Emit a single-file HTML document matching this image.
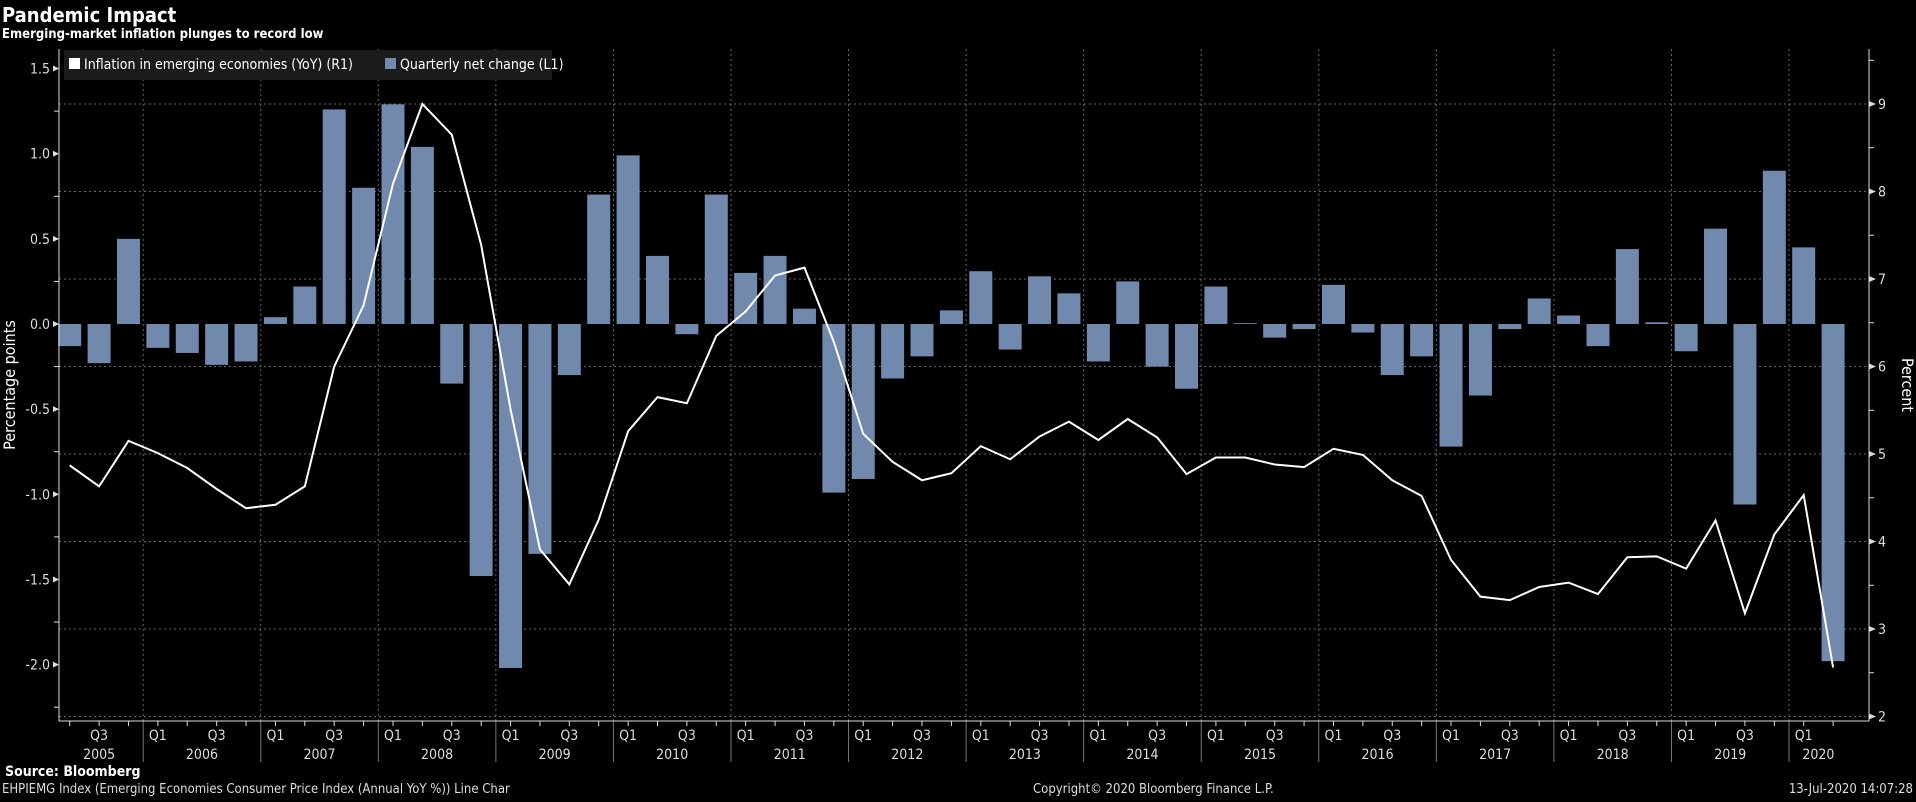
<!DOCTYPE html>
<html><head><meta charset="utf-8"><style>
body{margin:0;background:#000;width:1916px;height:797px;overflow:hidden;font-family:"Liberation Sans","DejaVu Sans",sans-serif;color:#fff}
svg text{font-family:"DejaVu Sans Condensed","Liberation Sans",sans-serif}
</style></head><body>
<svg id="c" width="1916" height="797"></svg>
<script>
const quarters = 61; // 2005Q2 .. 2020Q2
const barValues = [-0.13,-0.23,0.50,-0.14,-0.17,-0.24,-0.22,0.04,0.22,1.26,0.80,1.29,1.04,-0.35,-1.48,-2.02,-1.35,-0.30,0.76,0.99,0.40,-0.06,0.76,0.30,0.40,0.09,-0.99,-0.91,-0.32,-0.19,0.08,0.31,-0.15,0.28,0.18,-0.22,0.25,-0.25,-0.38,0.22,0.005,-0.08,-0.03,0.23,-0.05,-0.30,-0.19,-0.72,-0.42,-0.03,0.15,0.05,-0.13,0.44,0.01,-0.16,0.56,-1.06,0.90,0.45,-1.98];
const lineValues = [4.87,4.63,5.15,5.01,4.84,4.60,4.38,4.42,4.63,6.00,6.70,8.09,9.00,8.65,7.39,5.51,3.91,3.51,4.25,5.26,5.65,5.58,6.35,6.63,7.04,7.13,6.28,5.23,4.91,4.70,4.78,5.09,4.94,5.20,5.37,5.16,5.40,5.19,4.77,4.96,4.96,4.88,4.85,5.06,4.99,4.70,4.52,3.79,3.37,3.33,3.48,3.53,3.40,3.82,3.83,3.69,4.24,3.18,4.08,4.53,2.56];
const leftTicks = [1.5,1.0,0.5,0.0,-0.5,-1.0,-1.5,-2.0];
const leftTickLabels = ["1.5","1.0","0.5","0.0","-0.5","-1.0","-1.5","-2.0"];
const rightTicks = [2,3,4,5,6,7,8,9];
const years = ["2005","2006","2007","2008","2009","2010","2011","2012","2013","2014","2015","2016","2017","2018","2019","2020"];

const NS="http://www.w3.org/2000/svg", svg=document.getElementById('c');
const X0=59,X1=1869,Y0=49,Y1=721;
const xq=i=>69.7+i*29.39;
const yL=v=>324-v*170.3;
const yR=v=>104+(9-v)*87.5;
function el(t,a,p){const e=document.createElementNS(NS,t);for(const k in a)e.setAttribute(k,a[k]);(p||svg).appendChild(e);return e;}

let t=el('text',{x:2,y:22,'font-size':20,'font-weight':'bold',fill:'#fff'});t.textContent='Pandemic Impact';

t=el('text',{x:2,y:38,'font-size':13,'font-weight':'bold',fill:'#fff'});t.textContent='Emerging-market inflation plunges to record low';


rightTicks.forEach(v=>{const g=el('line',{x1:X0,x2:X1,y1:yR(v),y2:yR(v),stroke:'#666','stroke-dasharray':'2,3','stroke-width':1});
});
for(let y=1;y<years.length;y++){const xi=xq(3+4*(y-1)-0.5);
 const g=el('line',{x1:xi,x2:xi,y1:Y0,y2:Y1,stroke:'#666','stroke-dasharray':'2,3'});
 
 const d=el('line',{x1:xi,x2:xi,y1:Y1,y2:762,stroke:'#777'});
 }

const lg=el('g',{});
el('rect',{x:64,y:50,width:488,height:30,fill:'#1b1b1b'},lg);
el('rect',{x:69,y:58,width:11,height:11,fill:'#fff'},lg);
t=el('text',{x:84,y:69,'font-size':14,fill:'#fff'},lg);t.textContent='Inflation in emerging economies (YoY) (R1)';
el('rect',{x:385,y:58,width:11,height:11,fill:'#7189ad'},lg);
t=el('text',{x:400,y:69,'font-size':14,fill:'#fff'},lg);t.textContent='Quarterly net change (L1)';

barValues.forEach((v,i)=>{const y=Math.min(yL(v),yL(0)),h=Math.max(Math.abs(yL(v)-yL(0)),0.5);
 const r=el('rect',{x:xq(i)-11.5,y:y,width:23,height:h,fill:'#7189ad'});
 });
const pl=el('polyline',{points:lineValues.map((v,i)=>xq(i)+','+yR(v)).join(' '),fill:'none',stroke:'#fff','stroke-width':2});


let a=el('line',{x1:X0,x2:X0,y1:Y0,y2:Y1,stroke:'#ddd'});
a=el('line',{x1:X1,x2:X1,y1:Y0,y2:Y1,stroke:'#ddd'});
a=el('line',{x1:X0,x2:X1,y1:Y1,y2:Y1,stroke:'#ddd'});

leftTicks.forEach((v,i)=>{const y=yL(v);el('path',{d:`M${X0-6} ${y-3}L${X0} ${y}L${X0-6} ${y+3}Z`,fill:'#ddd'});
 const m=yL(v-0.25); el('line',{x1:X0-5,x2:X0,y1:m,y2:m,stroke:'#ddd'});
 const l=el('text',{x:X0-9,y:y+5,'font-size':14,fill:'#ddd','text-anchor':'end'});l.textContent=leftTickLabels[i];
 });
rightTicks.forEach(v=>{const y=yR(v);el('path',{d:`M${X1} ${y-3}L${X1+7} ${y}L${X1} ${y+3}Z`,fill:'#ddd'});
 el('line',{x1:X1,x2:X1+5,y1:yR(v+0.5),y2:yR(v+0.5),stroke:'#ddd'});
 const l=el('text',{x:X1+9,y:y+5,'font-size':14,fill:'#ddd'});l.textContent=String(v);
 });

for(let i=0;i<quarters;i++){el('line',{x1:xq(i),x2:xq(i),y1:Y1,y2:Y1+5,stroke:'#ddd'});
 const q=(i+1)%4; if(q===0||q===2){const l=el('text',{x:xq(i),y:740,'font-size':14,fill:'#ddd','text-anchor':'middle'});
 l.textContent=q===0?'Q1':'Q3';}}
years.forEach((yr,k)=>{const s=k===0?-0.5:3+4*(k-1)-0.5, e=Math.min(3+4*k-0.5, quarters-0.5);
 const l=el('text',{x:(xq(s)+xq(e))/2,y:759,'font-size':14,fill:'#ddd','text-anchor':'middle'});l.textContent=yr;
 });

t=el('text',{x:15,y:385,'font-size':16,fill:'#fff','text-anchor':'middle',transform:'rotate(-90 15 385)'});t.textContent='Percentage points';

t=el('text',{x:1902,y:385,'font-size':16,fill:'#fff','text-anchor':'middle',transform:'rotate(90 1902 385)'});t.textContent='Percent';


t=el('text',{x:5,y:776,'font-size':14,'font-weight':'bold',fill:'#fff'});t.textContent='Source: Bloomberg';

t=el('text',{x:2,y:793,'font-size':13,fill:'#ddd'});t.textContent='EHPIEMG Index (Emerging Economies Consumer Price Index (Annual YoY %)) Line Char';

t=el('text',{x:1033,y:793,'font-size':13,fill:'#ddd'});t.textContent='Copyright© 2020 Bloomberg Finance L.P.';

t=el('text',{x:1913,y:793,'font-size':13,fill:'#ddd','text-anchor':'end'});t.textContent='13-Jul-2020 14:07:28';

</script>
</body></html>
